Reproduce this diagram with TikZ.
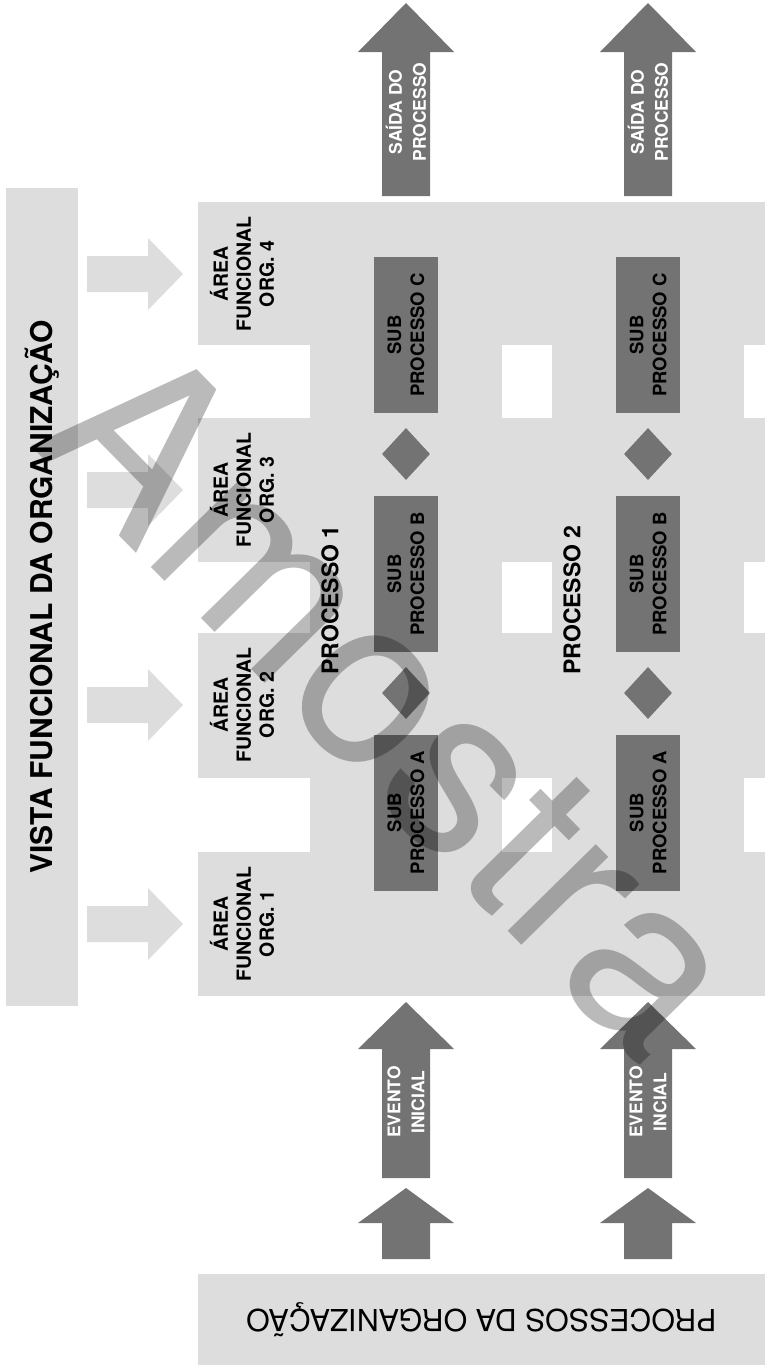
\documentclass[tikz,border=0pt]{standalone}
\usepackage{fontspec}
\setmainfont{TeX Gyre Heros}
\usetikzlibrary{shapes.geometric}
\definecolor{panelgray}{RGB}{221,221,221}
\definecolor{blockgray}{RGB}{115,115,115}

\begin{document}
\begin{tikzpicture}[x=1pt, y=-1pt]
  \tikzset{
    arealbl/.style={
      rotate=90, align=center, inner sep=0pt,
      font=\bfseries\fontsize{19.5}{23}\selectfont
    },
    proclbl/.style={
      rotate=90, inner sep=0pt,
      font=\bfseries\fontsize{23}{27}\selectfont
    },
    subbox/.style={
      fill=blockgray, rotate=90, minimum width=156, minimum height=64,
      inner sep=0pt, align=center, font=\bfseries\fontsize{18.5}{23}\selectfont
    },
    gate/.style={
      diamond, fill=blockgray, minimum width=48, minimum height=52, inner sep=0pt
    },
    flowtxt/.style={
      text=white, rotate=90, align=center, inner sep=0pt,
      font=\bfseries\fontsize{17.5}{24}\selectfont
    }
  }

  \useasboundingbox (0,0) rectangle (765,1365);

  % ---- Left bar: functional view ----
  \node[fill=panelgray, rotate=90, minimum width=818, minimum height=72, inner sep=0pt,
        font=\bfseries\fontsize{30}{36}\selectfont] (vista) at (42,597)
    {VISTA FUNCIONAL DA ORGANIZAÇÃO};

  % light arrows into the areas
  \fill[panelgray] (87,256) -- (148,256) -- (148,238) -- (183,274) -- (148,310) -- (148,292) -- (87,292) -- cycle;
  \fill[panelgray] (87,472) -- (148,472) -- (148,454) -- (183,490) -- (148,526) -- (148,508) -- (87,508) -- cycle;
  \fill[panelgray] (87,687) -- (148,687) -- (148,669) -- (183,705) -- (148,741) -- (148,723) -- (87,723) -- cycle;
  \fill[panelgray] (87,906) -- (148,906) -- (148,888) -- (183,924) -- (148,960) -- (148,942) -- (87,942) -- cycle;

  % ---- Functional areas (bands) and process lanes ----
  \fill[panelgray] (198,202) rectangle (765,345);
  \fill[panelgray] (198,418) rectangle (765,562);
  \fill[panelgray] (198,633) rectangle (765,778);
  \fill[panelgray] (198,852) rectangle (765,996);
  \fill[panelgray] (310,202) rectangle (502,996);
  \fill[panelgray] (552,202) rectangle (744,996);

  \node[arealbl] (area4) at (242,274) {ÁREA\\FUNCIONAL\\ORG. 4};
  \node[arealbl] (area3) at (242,490) {ÁREA\\FUNCIONAL\\ORG. 3};
  \node[arealbl] (area2) at (242,705) {ÁREA\\FUNCIONAL\\ORG. 2};
  \node[arealbl] (area1) at (242,924) {ÁREA\\FUNCIONAL\\ORG. 1};

  \node[proclbl] (proc1) at (330,600) {PROCESSO 1};
  \node[proclbl] (proc2) at (572,600) {PROCESSO 2};

  % ---- Process 1 ----
  \node[subbox] (subC1) at (406,335) {SUB\\PROCESSO C};
  \node[gate] (gateCB1) at (406,454) {};
  \node[subbox] (subB1) at (406,574) {SUB\\PROCESSO B};
  \node[gate] (gateBA1) at (406,693) {};
  \node[subbox] (subA1) at (406,812.5) {SUB\\PROCESSO A};

  % ---- Process 2 ----
  \node[subbox] (subC2) at (648,335) {SUB\\PROCESSO C};
  \node[gate] (gateCB2) at (648,454) {};
  \node[subbox] (subB2) at (648,574) {SUB\\PROCESSO B};
  \node[gate] (gateBA2) at (648,693) {};
  \node[subbox] (subA2) at (648,812.5) {SUB\\PROCESSO A};

  % ---- Outputs (top) ----
  \fill[blockgray] (382,196) -- (382,52) -- (358,52) -- (406,3) -- (454,52) -- (430,52) -- (430,196) -- cycle;
  \fill[blockgray] (624,196) -- (624,52) -- (600,52) -- (648,3) -- (696,52) -- (672,52) -- (672,196) -- cycle;
  \node[flowtxt] (saida1) at (406,112) {SAÍDA DO\\PROCESSO};
  \node[flowtxt] (saida2) at (648,112) {SAÍDA DO\\PROCESSO};

  % ---- Start events (bottom) ----
  \fill[blockgray] (382,1178) -- (382,1049) -- (358,1049) -- (406,1002) -- (454,1049) -- (430,1049) -- (430,1178) -- cycle;
  \fill[blockgray] (624,1178) -- (624,1049) -- (600,1049) -- (648,1002) -- (696,1049) -- (672,1049) -- (672,1178) -- cycle;
  \node[flowtxt] (evento1) at (406,1102) {EVENTO\\INICIAL};
  \node[flowtxt] (evento2) at (648,1102) {EVENTO\\INCIAL};

  \fill[blockgray] (382,1259) -- (382,1223) -- (358,1223) -- (406,1188) -- (454,1223) -- (430,1223) -- (430,1259) -- cycle;
  \fill[blockgray] (624,1259) -- (624,1223) -- (600,1223) -- (648,1188) -- (696,1223) -- (672,1223) -- (672,1259) -- cycle;

  % ---- Bottom bar ----
  \node[fill=panelgray, rotate=180, minimum width=567, minimum height=91, inner sep=0pt,
        font=\fontsize{30.3}{36}\selectfont] (procorg) at (481.5,1319.5)
    {PROCESSOS DA ORGANIZAÇÃO};

  % watermark
  \node[rotate=-45.5, text=black, text opacity=0.27, inner sep=0pt,
        font=\fontsize{236}{236}\selectfont] (amostra) at (396,697) {Amostra};
\end{tikzpicture}
\end{document}
